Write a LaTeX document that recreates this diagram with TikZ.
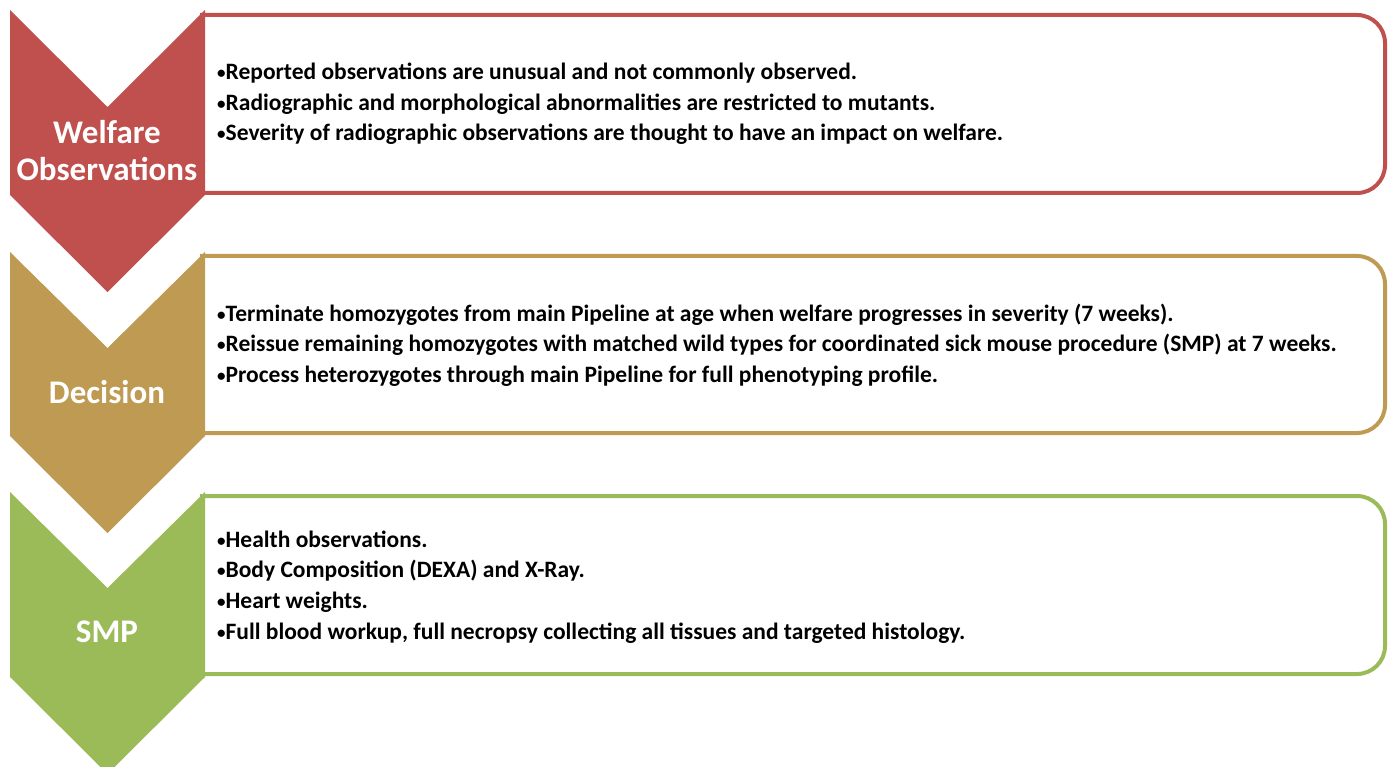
\documentclass[tikz,border=0pt]{standalone}
\usepackage{fontspec}
\setmainfont{Carlito}
\definecolor{welfred}{HTML}{C0504D}
\definecolor{dectan}{HTML}{BE9A52}
\definecolor{smpgreen}{HTML}{9BBB59}
\newcommand{\bul}{{\fontsize{17}{17}\selectfont\raisebox{1pt}{•}}}
\begin{document}
\begin{tikzpicture}[x=1pt,y=-1pt,
  panel/.style={line width=4pt, rounded corners=28pt, fill=white},
  chevlabel/.style={text=white, font=\bfseries\fontsize{33}{37}\selectfont, align=center},
  bullets/.style={anchor=west, align=left, font=\bfseries\fontsize{23.5}{30.6}\selectfont, inner sep=0pt}]
\useasboundingbox (0,0) rectangle (1391,767);

% rounded panels (left edge hidden behind the chevrons)
\draw[panel, draw=welfred]  (200,15)  -- (1385,15)  -- (1385,193) -- (200,193);
\draw[panel, draw=dectan]   (200,256) -- (1385,256) -- (1385,433) -- (200,433);
\draw[panel, draw=smpgreen] (200,496) -- (1385,496) -- (1385,674) -- (200,674);

% downward chevrons
\fill[welfred]  (10,10)  -- (107.5,107) -- (205,10)  -- (205,195) -- (107.5,292) -- (10,195) -- cycle;
\fill[dectan]   (10,252) -- (107.5,348) -- (205,252) -- (205,436) -- (107.5,533) -- (10,436) -- cycle;
\fill[smpgreen] (10,492) -- (107.5,588) -- (205,492) -- (205,677) -- (107.5,774) -- (10,677) -- cycle;

% chevron titles
\node[chevlabel] (welfare) at (107,151) {Welfare\\Observations};
\node[chevlabel] (decision) at (107,392) {Decision};
\node[chevlabel] (smp) at (107,632) {SMP};

% panel contents
\node[bullets] (welfaretext) at (217,104) {\bul Reported observations are unusual and not commonly observed.\\
\bul Radiographic and morphological abnormalities are restricted to mutants.\\
\bul Severity of radiographic observations are thought to have an impact on welfare.};
\node[bullets] (decisiontext) at (217,345) {\bul Terminate homozygotes from main Pipeline at age when welfare progresses in severity (7 weeks).\\
\bul Reissue remaining homozygotes with matched wild types for coordinated sick mouse procedure (SMP) at 7 weeks.\\
\bul Process heterozygotes through main Pipeline for full phenotyping profile.};
\node[bullets] (smptext) at (217,587) {\bul Health observations.\\
\bul Body Composition (DEXA) and X-Ray.\\
\bul Heart weights.\\
\bul Full blood workup, full necropsy collecting all tissues and targeted histology.};
\end{tikzpicture}
\end{document}
